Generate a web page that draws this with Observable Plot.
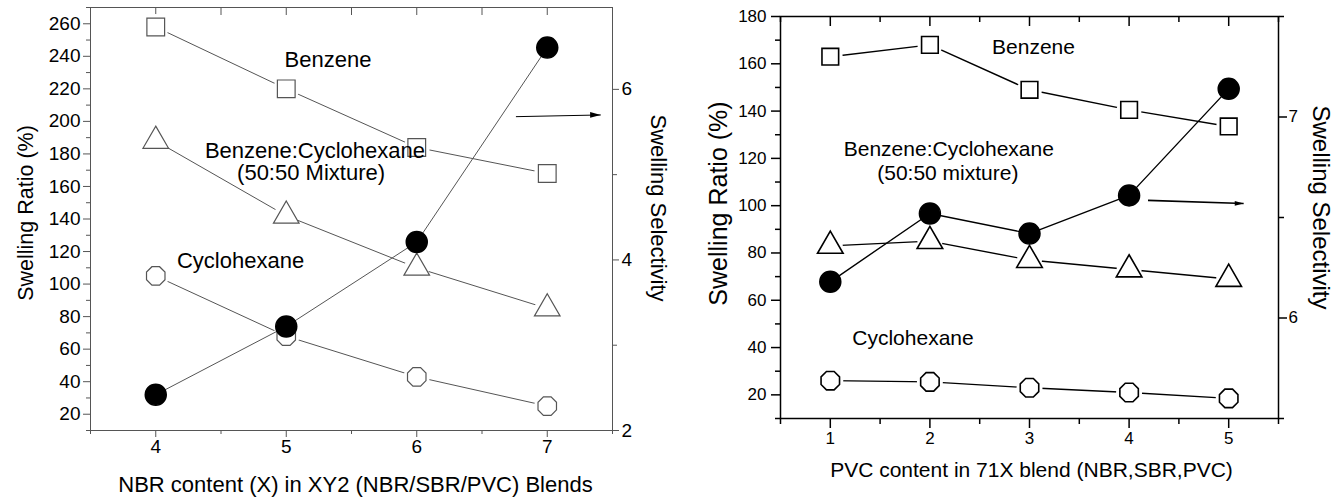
<!DOCTYPE html>
<html><head><meta charset="utf-8">
<script src="https://cdn.jsdelivr.net/npm/d3@7"></script>
<script src="https://cdn.jsdelivr.net/npm/@observablehq/plot@0.6"></script>
<style>
body{margin:0;background:#fff;}
#wrap{position:relative;width:1342px;height:499px;overflow:hidden;}
#wrap svg{position:absolute;top:0;max-width:none;}
</style></head><body><div id="wrap"></div>
<script>
// ---------- Left panel data ----------
const blendX = [4, 5, 6, 7];
const benzeneA = [258, 220, 184, 168];
const mixtureA = [188, 142, 110, 85];
const cyclohexA = [105, 68, 43, 25];
const selectA = [2.42, 3.22, 4.21, 6.49];
const ratioTicksA = [20, 40, 60, 80, 100, 120, 140, 160, 180, 200, 220, 240, 260];
const ratioMinorA = [10, 30, 50, 70, 90, 110, 130, 150, 170, 190, 210, 230, 250, 270];
const xMinorA = [3.5, 4.5, 5.5, 6.5, 7.5];
const selTicksA = [2, 4, 6];
const selMinorA = [3, 5];
const labelsA = [
  {t: "Benzene", x: 5.32, y: 238},
  {t: "Benzene:Cyclohexane", x: 5.22, y: 182},
  {t: "(50:50 Mixture)", x: 5.19, y: 168},
  {t: "Cyclohexane", x: 4.65, y: 114.5}
];
const arrowA = [{x1: 6.76, y1: 5.68, x2: 7.41, y2: 5.70}];

// ---------- Right panel data ----------
const pvcX = [1, 2, 3, 4, 5];
const benzeneB = [163, 168, 149, 140.5, 133.5];
const mixtureB = [83, 85, 77, 73, 69];
const cyclohexB = [26, 25.5, 23, 21, 18.5];
const selectB = [6.18, 6.52, 6.42, 6.61, 7.14];
const ratioTicksB = [20, 40, 60, 80, 100, 120, 140, 160, 180];
const ratioMinorB = [10, 30, 50, 70, 90, 110, 130, 150, 170];
const xMinorB = [0.5, 1.5, 2.5, 3.5, 4.5, 5.5];
const selTicksB = [6, 7];
const selMinorB = [5.5, 6.5, 7.5];
const labelsB = [
  {t: "Benzene", x: 3.04, y: 167},
  {t: "Benzene:Cyclohexane", x: 2.19, y: 124},
  {t: "(50:50 mixture)", x: 2.18, y: 113.5},
  {t: "Cyclohexane", x: 1.83, y: 43.8}
];
const arrowB = [{x1: 4.19, y1: 6.585, x2: 5.15, y2: 6.57}];

// ---------- helpers ----------
const FONT = '"Liberation Sans", Arial, Helvetica, sans-serif';
const pts = (xs, ys) => xs.map((x, i) => ({x, y: ys[i]}));
const fmt = d => String(d);
const blank = () => "";
const octagon = {draw(ctx, size) {
  const r = Math.sqrt(size / Math.PI);
  for (let i = 0; i < 8; i++) {
    const a = Math.PI / 8 + i * Math.PI / 4;
    const px = r * Math.cos(a), py = r * Math.sin(a);
    if (i) ctx.lineTo(px, py); else ctx.moveTo(px, py);
  }
  ctx.closePath();
}};
const arrowHead = {draw(ctx, size) {
  const s = Math.sqrt(size);
  ctx.moveTo(0, 0); ctx.lineTo(-s, -s * 0.27); ctx.lineTo(-s, s * 0.27); ctx.closePath();
}};

function series(xs, ys, symbol, r, stroke, lw, mw) {
  const d = pts(xs, ys);
  return [
    Plot.line(d, {x: "x", y: "y", stroke, strokeWidth: lw}),
    Plot.dot(d, {x: "x", y: "y", r: r + 3, fill: "white", stroke: "none"}),
    Plot.dot(d, {x: "x", y: "y", symbol, r, fill: "white", stroke, strokeWidth: mw})
  ];
}
const title = (txt, anchor, dx, dy, rotate, fontSize) =>
  Plot.text([txt], {frameAnchor: anchor, dx, dy, rotate, fontSize, fill: "black", textAnchor: "middle", lineAnchor: "middle"});

const wrap = document.getElementById("wrap");

// ---------- Left panel ----------
const gA = "#555";
const dimA = {width: 680, height: 499, marginLeft: 90, marginRight: 68, marginTop: 7, marginBottom: 69};
const baseA = Plot.plot({
  ...dimA,
  style: {fontFamily: FONT, background: "transparent", overflow: "visible", color: "black"},
  x: {domain: [3.5, 7.5]},
  y: {domain: [10, 270]},
  marks: [
    Plot.frame({stroke: gA, strokeWidth: 1}),
    Plot.axisY(ratioTicksA, {anchor: "left", tickSize: 7, tickPadding: 3, fontSize: 19, tickFormat: fmt, label: null, stroke: gA, fill: "black"}),
    Plot.axisY(ratioMinorA, {anchor: "left", tickSize: 4, tickFormat: blank, label: null, stroke: gA}),
    Plot.axisX(blendX, {anchor: "bottom", tickSize: 7, tickPadding: 2, fontSize: 19, tickFormat: fmt, label: null, stroke: gA, fill: "black"}),
    Plot.axisX(xMinorA, {anchor: "bottom", tickSize: 4, tickFormat: blank, label: null, stroke: gA}),
    Plot.axisX(blendX.concat(xMinorA), {anchor: "top", tickSize: 7, dy: 7, tickFormat: blank, label: null, stroke: gA}),
    ...series(blendX, benzeneA, "square", 10, gA, 1, 1.2),
    ...series(blendX, mixtureA, "triangle", 9.5, gA, 1, 1.2),
    ...series(blendX, cyclohexA, octagon, 10, gA, 1, 1.2),
    Plot.text(labelsA, {x: "x", y: "y", text: "t", fontSize: 22, fill: "black"}),
    title("Swelling Ratio (%)", "left", -64, -6, -90, 21.5),
    title("NBR content (X) in XY2 (NBR/SBR/PVC) Blends", "bottom", 4, 54, 0, 22)
  ]
});
const overA = Plot.plot({
  ...dimA,
  style: {fontFamily: FONT, background: "transparent", overflow: "visible", color: "black"},
  x: {domain: [3.5, 7.5], axis: null},
  y: {domain: [2, 6.96]},
  marks: [
    Plot.axisY(selTicksA, {anchor: "right", tickSize: 6, tickPadding: 3, fontSize: 19, tickFormat: fmt, label: null, stroke: gA, fill: "black"}),
    Plot.axisY(selMinorA, {anchor: "right", tickSize: 4, tickFormat: blank, label: null, stroke: gA}),
    Plot.line(pts(blendX, selectA), {x: "x", y: "y", stroke: gA, strokeWidth: 1}),
    Plot.dot(pts(blendX, selectA), {x: "x", y: "y", r: 10.5, fill: "black", stroke: "black"}),
    Plot.link(arrowA, {x1: "x1", y1: "y1", x2: "x2", y2: "y2", stroke: "black", strokeWidth: 1}),
    Plot.dot(arrowA, {x: "x2", y: "y2", symbol: arrowHead, r: 6, fill: "black", stroke: "none"}),
    title("Swelling Selectivity", "right", 46, -11, 90, 22)
  ]
});

// ---------- Right panel ----------
const gB = "#000";
const dimB = {width: 662, height: 499, marginLeft: 100, marginRight: 64, marginTop: 16, marginBottom: 81};
const baseB = Plot.plot({
  ...dimB,
  style: {fontFamily: FONT, background: "transparent", overflow: "visible", color: "black"},
  x: {domain: [0.5, 5.5]},
  y: {domain: [10, 180]},
  marks: [
    Plot.frame({stroke: gB, strokeWidth: 1.5}),
    Plot.axisY(ratioTicksB, {anchor: "left", tickSize: 9, tickPadding: 5, fontSize: 17, tickFormat: fmt, label: null, stroke: gB, strokeWidth: 1.5, fill: "black"}),
    Plot.axisY(ratioMinorB, {anchor: "left", tickSize: 5, tickFormat: blank, label: null, stroke: gB, strokeWidth: 1.5}),
    Plot.axisX(pvcX, {anchor: "bottom", tickSize: 10, tickPadding: 3, fontSize: 17, tickFormat: fmt, label: null, stroke: gB, strokeWidth: 1.5, fill: "black"}),
    Plot.axisX(xMinorB, {anchor: "bottom", tickSize: 6, tickFormat: blank, label: null, stroke: gB, strokeWidth: 1.5}),
    Plot.axisX(pvcX, {anchor: "top", tickSize: 9, dy: 9, tickFormat: blank, label: null, stroke: gB, strokeWidth: 1.5}),
    Plot.axisX(xMinorB, {anchor: "top", tickSize: 5, dy: 5, tickFormat: blank, label: null, stroke: gB, strokeWidth: 1.5}),
    ...series(pvcX, benzeneB, "square", 9.4, gB, 1.4, 1.6),
    ...series(pvcX, mixtureB, "triangle", 9.5, gB, 1.4, 1.6),
    ...series(pvcX, cyclohexB, octagon, 10, gB, 1.4, 1.6),
    Plot.text(labelsB, {x: "x", y: "y", text: "t", fontSize: 21, fill: "black"}),
    title("Swelling Ratio (%)", "left", -62, -14, -90, 25),
    title("PVC content in 71X blend (NBR,SBR,PVC)", "bottom", 2, 52, 0, 21)
  ]
});
const overB = Plot.plot({
  ...dimB,
  style: {fontFamily: FONT, background: "transparent", overflow: "visible", color: "black"},
  x: {domain: [0.5, 5.5], axis: null},
  y: {domain: [5.5, 7.5]},
  marks: [
    Plot.axisY(selTicksB, {anchor: "right", tickSize: 8, tickPadding: 2, fontSize: 17, tickFormat: fmt, label: null, stroke: gB, strokeWidth: 1.5, fill: "black"}),
    Plot.axisY(selMinorB, {anchor: "right", tickSize: 5, tickFormat: blank, label: null, stroke: gB, strokeWidth: 1.5}),
    Plot.line(pts(pvcX, selectB), {x: "x", y: "y", stroke: gB, strokeWidth: 1.4}),
    Plot.dot(pts(pvcX, selectB), {x: "x", y: "y", r: 10.5, fill: "black", stroke: "black"}),
    Plot.link(arrowB, {x1: "x1", y1: "y1", x2: "x2", y2: "y2", stroke: "black", strokeWidth: 1.6}),
    Plot.dot(arrowB, {x: "x2", y: "y2", symbol: arrowHead, r: 5, fill: "black", stroke: "none"}),
    title("Swelling Selectivity", "right", 42, -10, 90, 24)
  ]
});

[baseA, overA].forEach(s => { s.style.left = "0px"; wrap.appendChild(s); });
[baseB, overB].forEach(s => { s.style.left = "680px"; wrap.appendChild(s); });
</script>
</body></html>
